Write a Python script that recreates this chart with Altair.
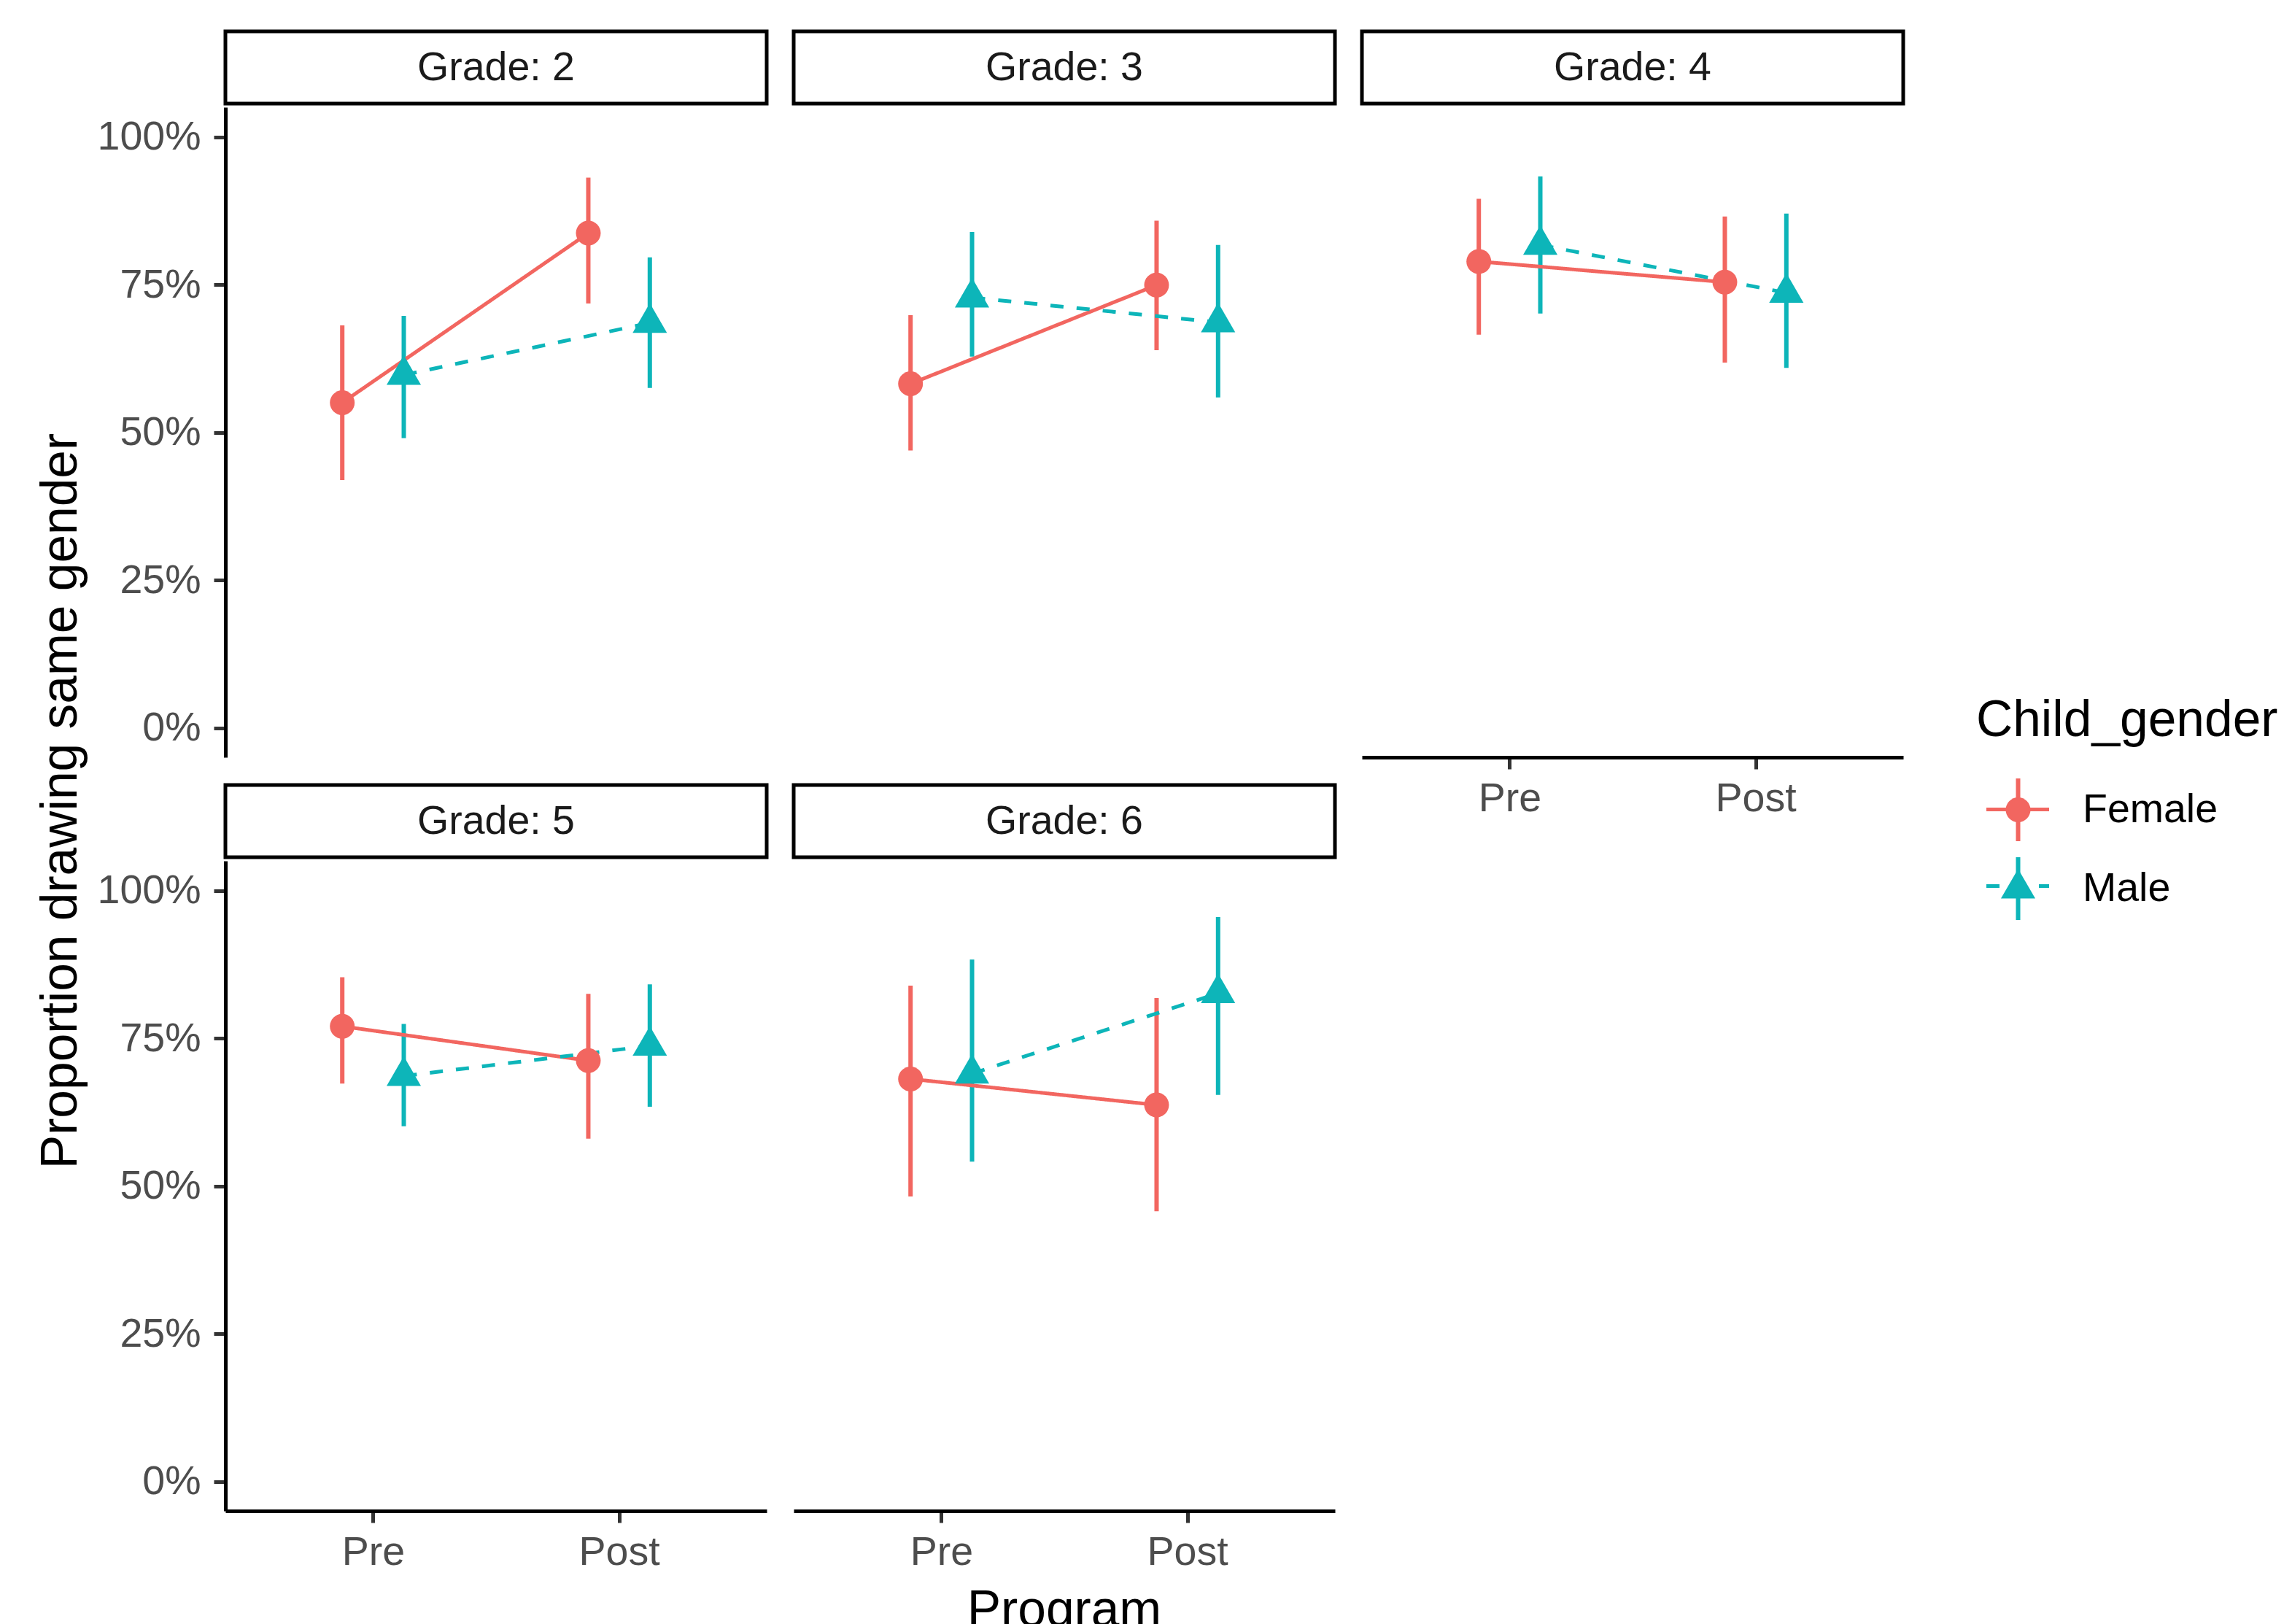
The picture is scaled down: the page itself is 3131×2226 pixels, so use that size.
import altair as alt
import pandas as pd

grades = ["Grade: 2", "Grade: 3", "Grade: 4", "Grade: 5", "Grade: 6"]
programs = ["Pre", "Post"]
genders = ["Female", "Male"]

female_pre = [0.550, 0.582, 0.789, 0.770, 0.681]
female_pre_lo = [0.419, 0.469, 0.665, 0.673, 0.482]
female_pre_hi = [0.681, 0.698, 0.895, 0.853, 0.839]
female_post = [0.837, 0.749, 0.754, 0.712, 0.637]
female_post_lo = [0.718, 0.639, 0.618, 0.580, 0.457]
female_post_hi = [0.931, 0.858, 0.865, 0.825, 0.818]
male_pre = [0.597, 0.728, 0.817, 0.686, 0.690]
male_pre_lo = [0.490, 0.628, 0.701, 0.601, 0.541]
male_pre_hi = [0.697, 0.839, 0.933, 0.774, 0.883]
male_post = [0.685, 0.686, 0.736, 0.737, 0.826]
male_post_lo = [0.575, 0.559, 0.609, 0.634, 0.654]
male_post_hi = [0.796, 0.817, 0.870, 0.841, 0.955]

series = {
    ("Female", "Pre"): (female_pre, female_pre_lo, female_pre_hi),
    ("Female", "Post"): (female_post, female_post_lo, female_post_hi),
    ("Male", "Pre"): (male_pre, male_pre_lo, male_pre_hi),
    ("Male", "Post"): (male_post, male_post_lo, male_post_hi),
}

rows = []
for i, g in enumerate(grades):
    for gender in genders:
        for p_idx, prog in enumerate(programs):
            est, lo, hi = series[(gender, prog)]
            rows.append({
                "grade": g, "program": prog, "prog_idx": p_idx + 1,
                "Child_gender": gender, "g2": gender, "g3": gender,
                "est": est[i], "lo": lo[i], "hi": hi[i],
            })
df = pd.DataFrame(rows)

W, H = 742, 891
COLORS = ["#F26660", "#0DB5B9"]
FONT = "Liberation Sans"
BOX = "M-1,-1 M1,1 "  # move-only points: equal symbol bounds for every legend
CIRCLE = BOX + "M-0.395,0 A0.395,0.395 0 1,0 0.395,0 A0.395,0.395 0 1,0 -0.395,0 Z"
TRI = BOX + "M0,-0.63 L0.547,0.316 L-0.547,0.316 Z"
HLINE = BOX + "M-1,0 L1,0"
VLINE = BOX + "M0,-1 L0,1"

TICK_FS = 55.5
TITLE_FS = 69.5
LX, LY = 2400, 807

common = dict(orient="none", legendX=LX, legendY=LY, title="Child_gender",
              titleFontSize=TITLE_FS, titleFont=FONT, titleFontWeight="normal",
              titleLimit=2000, labelLimit=2000,
              labelFontSize=TICK_FS, labelFont=FONT, symbolSize=7400,
              symbolOffset=11, labelOffset=42, titlePadding=40, padding=0,
              rowPadding=-3)
leg_pts = alt.Legend(**common, titleColor="black", labelColor="black",
                     symbolStrokeWidth=6, symbolStrokeColor="transparent")
leg_line = alt.Legend(**common, titleOpacity=0, labelOpacity=0,
                      symbolType=HLINE, symbolStrokeWidth=5)
leg_rule = alt.Legend(**common, titleOpacity=0, labelOpacity=0,
                      symbolType=VLINE, symbolStrokeWidth=6)

xscale = alt.Scale(domain=[0.4, 2.6], nice=False, zero=False)
yscale = alt.Scale(domain=[-0.05, 1.05], nice=False, zero=False)
xaxis = alt.Axis(values=[1, 2], labelExpr="datum.value == 1 ? 'Pre' : 'Post'", title=None)
yaxis = alt.Axis(values=[0, 0.25, 0.5, 0.75, 1], format=".0%", title=None)


def panel(grade, show_x, show_y):
    xa = xaxis if show_x else None
    ya = yaxis if show_y else None
    base = alt.Chart(df).transform_filter(
        alt.datum.grade == grade
    ).transform_calculate(
        xpos="datum.prog_idx + (datum.Child_gender == 'Female' ? -0.125 : 0.125)"
    )
    one = "datum.program == 'Pre' && datum.Child_gender == 'Female'"
    strip_rect = base.mark_rect(fill="white", stroke="black", strokeWidth=5).encode(
        x=alt.value(0), x2=alt.value(W), y=alt.value(-104), y2=alt.value(-5)
    ).transform_filter(one)
    strip_text = base.mark_text(fontSize=TICK_FS, color="#1A1A1A", baseline="middle",
                                align="center", font=FONT).encode(
        text="grade:N", x=alt.value(W / 2), y=alt.value(-54)
    ).transform_filter(one)
    rules = base.mark_rule(strokeWidth=6).encode(
        x=alt.X("xpos:Q", scale=xscale, axis=xa),
        y=alt.Y("lo:Q", scale=yscale, axis=ya),
        y2="hi:Q",
        color=alt.Color("g3:N", scale=alt.Scale(range=COLORS), legend=leg_rule),
    )
    lines = base.mark_line(strokeWidth=5).encode(
        x=alt.X("xpos:Q", scale=xscale, axis=xa),
        y=alt.Y("est:Q", scale=yscale, axis=ya),
        stroke=alt.Stroke("g2:N", scale=alt.Scale(range=COLORS), legend=leg_line),
        strokeDash=alt.StrokeDash("g2:N", scale=alt.Scale(range=[[1, 0], [18, 18]]),
                                  legend=leg_line),
        order="xpos:Q",
    )
    points = base.mark_point(filled=True, size=7400, opacity=1, strokeWidth=0).encode(
        x=alt.X("xpos:Q", scale=xscale, axis=xa),
        y=alt.Y("est:Q", scale=yscale, axis=ya),
        fill=alt.Fill("Child_gender:N", scale=alt.Scale(range=COLORS), legend=leg_pts),
        shape=alt.Shape("Child_gender:N", scale=alt.Scale(range=[CIRCLE, TRI]), legend=leg_pts),
    )
    return alt.layer(strip_rect, strip_text, rules, lines, points).properties(width=W, height=H)


p2 = panel("Grade: 2", False, True)
p3 = panel("Grade: 3", False, False)
p4 = panel("Grade: 4", True, False)
p5 = panel("Grade: 5", True, True)
p6 = panel("Grade: 6", True, False)

col1 = alt.vconcat(p2, p5, spacing=35).properties(
    title=alt.TitleParams("Proportion drawing same gender", orient="left", anchor="middle",
                          fontSize=TITLE_FS, fontWeight="normal", color="black", font=FONT,
                          offset=14)
)
col2 = alt.vconcat(p3, p6, spacing=35).properties(
    title=alt.TitleParams("Program", orient="bottom", anchor="middle", fontSize=TITLE_FS,
                          fontWeight="normal", color="black", font=FONT, offset=18)
)

chart = alt.hconcat(col1, col2, p4, spacing=31).properties(
    padding={"left": 40, "top": 32, "right": 0, "bottom": 0},
).configure(font=FONT).configure_view(strokeWidth=0).configure_axis(
    domainColor="black", domainWidth=5, tickColor="#333333", tickWidth=5, tickSize=16,
    labelColor="#4D4D4D", labelFontSize=TICK_FS, labelFont=FONT, grid=False,
).configure_axisX(labelPadding=13).configure_axisY(labelPadding=18)

chart.save("out.html", embed_options={"renderer": "svg", "actions": False})
